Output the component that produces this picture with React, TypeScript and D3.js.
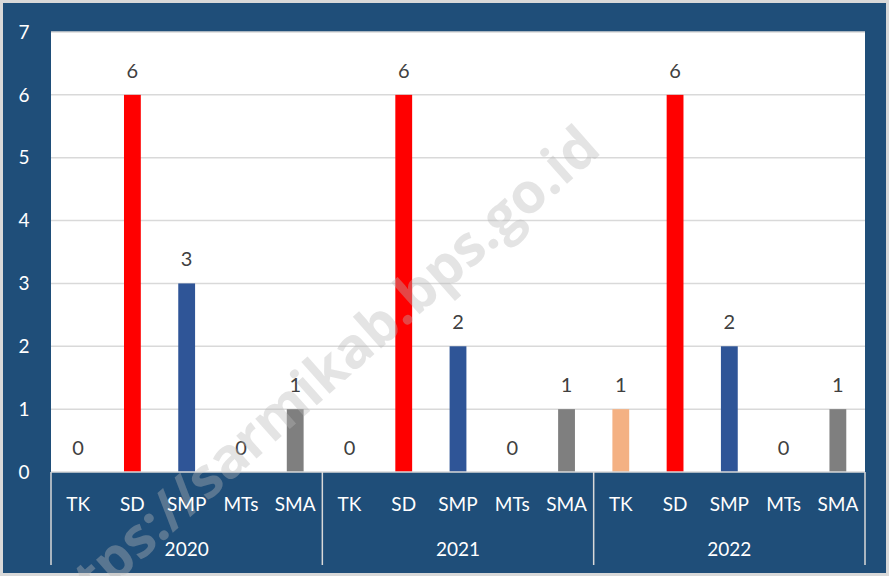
import React, { useEffect, useRef } from "react";
import * as d3 from "d3";

const years = ["2020", "2021", "2022"];
const levels = ["TK", "SD", "SMP", "MTs", "SMA"];
const values2020 = [0, 6, 3, 0, 1];
const values2021 = [0, 6, 2, 0, 1];
const values2022 = [1, 6, 2, 0, 1];
const yTicks = [0, 1, 2, 3, 4, 5, 6, 7];
const levelColors = ["#F4B183", "#FF0000", "#2F5597", "#7F7F7F", "#7F7F7F"];

const W = 889;
const H = 576;
const BG = "#1F4E79";
const FONT = "Lato, 'Open Sans', sans-serif";

export default function App() {
  const ref = useRef<SVGSVGElement>(null);

  useEffect(() => {
    const svg = d3.select(ref.current);
    svg.selectAll("*").remove();

    const plot = { left: 51, right: 865, top: 32, bottom: 472 };
    const rows = [values2020, values2021, values2022].flatMap((vals, yi) =>
      vals.map((v, li) => ({ key: `${years[yi]}-${levels[li]}`, year: years[yi], level: levels[li], li, v }))
    );

    svg.append("rect").attr("fill", BG)
      .attr("stroke", "#d9d9d9").attr("stroke-width", 3).attr("x", 1.5).attr("y", 1.5)
      .attr("width", W - 3).attr("height", H - 3);

    svg.append("rect")
      .attr("x", plot.left).attr("y", plot.top)
      .attr("width", plot.right - plot.left).attr("height", plot.bottom - plot.top)
      .attr("fill", "white");

    const x = d3.scaleBand()
      .domain(rows.map((d) => d.key))
      .range([plot.left, plot.right])
      .paddingInner(0.69).paddingOuter(0.345);
    const y = d3.scaleLinear().domain([0, 7]).range([plot.bottom, plot.top]);

    // gridlines
    svg.append("g").selectAll("line").data(yTicks.filter((t) => t > 0)).join("line")
      .attr("x1", plot.left).attr("x2", plot.right)
      .attr("y1", (d) => y(d)).attr("y2", (d) => y(d))
      .attr("stroke", "#d9d9d9").attr("stroke-width", 1.5);

    // y tick labels
    svg.append("g").selectAll("text").data(yTicks).join("text")
      .attr("x", 24).attr("y", (d) => y(d))
      .attr("dy", "0.35em").attr("text-anchor", "middle")
      .attr("fill", "white").style("font-family", FONT).style("font-size", "19px")
      .text((d) => d);

    // bars
    svg.append("g").selectAll("rect").data(rows.filter((d) => d.v > 0)).join("rect")
      .attr("x", (d) => x(d.key)!)
      .attr("width", x.bandwidth())
      .attr("y", (d) => y(d.v))
      .attr("height", (d) => y(0) - y(d.v))
      .attr("fill", (d) => levelColors[d.li]);

    // data labels
    svg.append("g").selectAll("text").data(rows).join("text")
      .attr("x", (d) => x(d.key)! + x.bandwidth() / 2)
      .attr("y", (d) => y(d.v) - 24)
      .attr("dy", "0.35em").attr("text-anchor", "middle")
      .attr("fill", "#404040").style("font-family", FONT).style("font-size", "20px")
      .text((d) => d.v);

    // watermark
    svg.append("text")
      .attr("transform", "translate(603,152) rotate(-41.5)")
      .attr("text-anchor", "end")
      .attr("fill", "#b8b8b8").attr("fill-opacity", 0.38)
      .style("font-family", "'Open Sans', sans-serif").style("font-weight", "bold")
      .style("font-size", "56px")
      .text("https://sarmikab.bps.go.id");

    // baseline
    svg.append("line")
      .attr("x1", plot.left).attr("x2", plot.right)
      .attr("y1", plot.bottom).attr("y2", plot.bottom)
      .attr("stroke", "#d9d9d9").attr("stroke-width", 1.5);

    // category axis
    const step = x.step();
    const sepX = years.map((_, i) => plot.left + i * 5 * step).concat([plot.right]);
    svg.append("g").selectAll("line").data(sepX).join("line")
      .attr("x1", (d) => d).attr("x2", (d) => d)
      .attr("y1", plot.bottom).attr("y2", 565)
      .attr("stroke", "#d9d9d9").attr("stroke-width", 1.5);

    svg.append("g").selectAll("text").data(rows).join("text")
      .attr("x", (d) => x(d.key)! + x.bandwidth() / 2)
      .attr("y", 504).attr("dy", "0.35em").attr("text-anchor", "middle")
      .attr("fill", "white").style("font-family", FONT).style("font-size", "19px")
      .text((d) => d.level);

    svg.append("g").selectAll("text").data(years).join("text")
      .attr("x", (_, i) => (sepX[i] + sepX[i + 1]) / 2)
      .attr("y", 549).attr("dy", "0.35em").attr("text-anchor", "middle")
      .attr("fill", "white").style("font-family", FONT).style("font-size", "19px")
      .text((d) => d);
  }, []);

  return (
    <svg ref={ref} width={W} height={H} style={{ display: "block", position: "absolute", left: 0, top: 0 }} />
  );
}
